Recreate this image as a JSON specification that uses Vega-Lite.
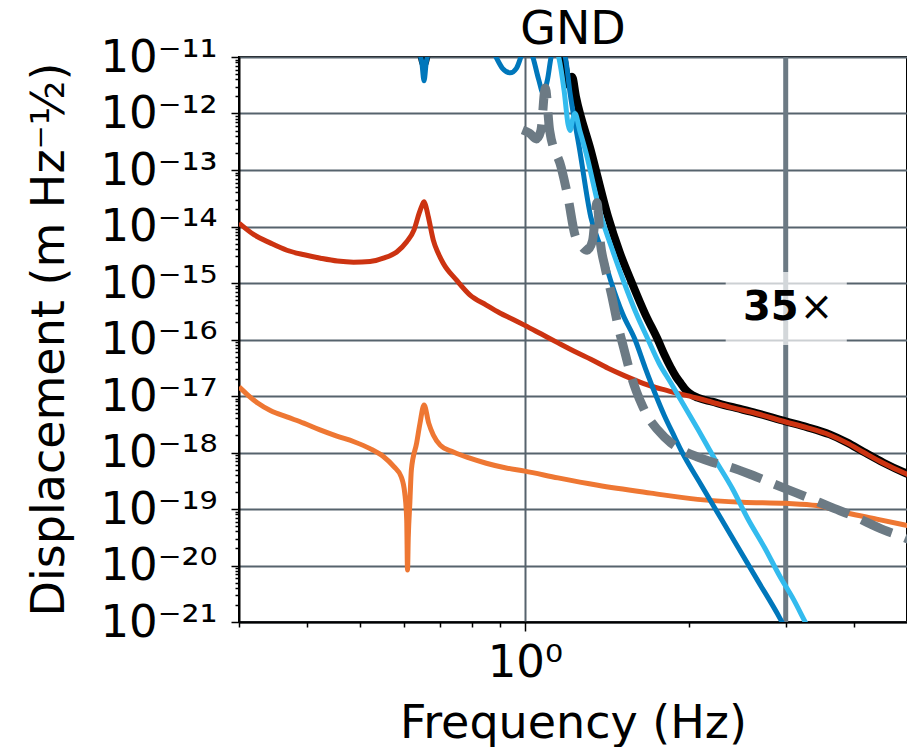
{
  "$schema": "https://vega.github.io/schema/vega-lite/v6.json",
  "width": 668,
  "height": 565,
  "autosize": {"type": "none"},
  "padding": {"left": 239, "top": 57, "right": 0, "bottom": 125},
  "background": "white",
  "config": {
    "view": {"stroke": "black", "strokeWidth": 2},
    "font": "DejaVu Sans"
  },
  "title": {
    "text": "GND",
    "fontSize": 46,
    "font": "DejaVu Sans",
    "fontWeight": "normal",
    "color": "black",
    "anchor": "middle",
    "frame": "group",
    "baseline": "alphabetic",
    "offset": 17,
    "dy": 72
  },
  "datasets": {
    "curves": [
      {"s": "red", "f": 0.3, "v": 1.15e-14},
      {"s": "red", "f": 0.32, "v": 7.08e-15},
      {"s": "red", "f": 0.342, "v": 5.13e-15},
      {"s": "red", "f": 0.367, "v": 3.8e-15},
      {"s": "red", "f": 0.395, "v": 3.16e-15},
      {"s": "red", "f": 0.423, "v": 2.75e-15},
      {"s": "red", "f": 0.454, "v": 2.45e-15},
      {"s": "red", "f": 0.486, "v": 2.34e-15},
      {"s": "red", "f": 0.521, "v": 2.4e-15},
      {"s": "red", "f": 0.551, "v": 2.75e-15},
      {"s": "red", "f": 0.583, "v": 3.55e-15},
      {"s": "red", "f": 0.608, "v": 5.37e-15},
      {"s": "red", "f": 0.627, "v": 8.71e-15},
      {"s": "red", "f": 0.641, "v": 1.74e-14},
      {"s": "red", "f": 0.649, "v": 2.4e-14},
      {"s": "red", "f": 0.654, "v": 2.75e-14},
      {"s": "red", "f": 0.659, "v": 2.29e-14},
      {"s": "red", "f": 0.666, "v": 1.48e-14},
      {"s": "red", "f": 0.68, "v": 5.75e-15},
      {"s": "red", "f": 0.694, "v": 3.39e-15},
      {"s": "red", "f": 0.709, "v": 2.24e-15},
      {"s": "red", "f": 0.75, "v": 1.12e-15},
      {"s": "red", "f": 0.793, "v": 6.17e-16},
      {"s": "red", "f": 0.85, "v": 4.07e-16},
      {"s": "red", "f": 0.9, "v": 2.95e-16},
      {"s": "red", "f": 0.95, "v": 2.29e-16},
      {"s": "red", "f": 1.0, "v": 1.78e-16},
      {"s": "red", "f": 1.07, "v": 1.26e-16},
      {"s": "red", "f": 1.15, "v": 8.71e-17},
      {"s": "red", "f": 1.25, "v": 5.75e-17},
      {"s": "red", "f": 1.32, "v": 4.47e-17},
      {"s": "red", "f": 1.42, "v": 3.09e-17},
      {"s": "red", "f": 1.52, "v": 2.29e-17},
      {"s": "red", "f": 1.65, "v": 1.66e-17},
      {"s": "red", "f": 1.78, "v": 1.32e-17},
      {"s": "red", "f": 1.9, "v": 1.12e-17},
      {"s": "red", "f": 2.07, "v": 9.12e-18},
      {"s": "red", "f": 2.2, "v": 7.76e-18},
      {"s": "red", "f": 2.38, "v": 6.31e-18},
      {"s": "red", "f": 2.65, "v": 4.9e-18},
      {"s": "red", "f": 3.0, "v": 3.47e-18},
      {"s": "red", "f": 3.28, "v": 2.75e-18},
      {"s": "red", "f": 3.61, "v": 2.04e-18},
      {"s": "red", "f": 3.88, "v": 1.48e-18},
      {"s": "red", "f": 4.17, "v": 1.0e-18},
      {"s": "red", "f": 4.53, "v": 6.46e-19},
      {"s": "red", "f": 4.93, "v": 4.37e-19},
      {"s": "red", "f": 5.1, "v": 3.8e-19},

      {"s": "black", "f": 0.3, "v": 1e-10},
      {"s": "black", "f": 0.64, "v": 1.58e-11},
      {"s": "black", "f": 0.654, "v": 7.59e-12},
      {"s": "black", "f": 0.668, "v": 1.58e-11},
      {"s": "black", "f": 1.0, "v": 5.01e-11},
      {"s": "black", "f": 1.17, "v": 1.26e-11},
      {"s": "black", "f": 1.19, "v": 5.01e-12},
      {"s": "black", "f": 1.205, "v": 3.16e-12},
      {"s": "black", "f": 1.22, "v": 4.47e-12},
      {"s": "black", "f": 1.24, "v": 2.0e-12},
      {"s": "black", "f": 1.32, "v": 2.24e-13},
      {"s": "black", "f": 1.42, "v": 1.48e-14},
      {"s": "black", "f": 1.49, "v": 3.55e-15},
      {"s": "black", "f": 1.57, "v": 1.0e-15},
      {"s": "black", "f": 1.66, "v": 2.82e-16},
      {"s": "black", "f": 1.75, "v": 1.0e-16},
      {"s": "black", "f": 1.8, "v": 5.37e-17},
      {"s": "black", "f": 1.85, "v": 3.16e-17},
      {"s": "black", "f": 1.89, "v": 2.19e-17},
      {"s": "black", "f": 1.93, "v": 1.66e-17},
      {"s": "black", "f": 1.96, "v": 1.35e-17},
      {"s": "black", "f": 2.0, "v": 1.12e-17},
      {"s": "black", "f": 2.07, "v": 9.33e-18},
      {"s": "black", "f": 2.2, "v": 7.94e-18},
      {"s": "black", "f": 2.38, "v": 6.46e-18},
      {"s": "black", "f": 2.65, "v": 5.0e-18},
      {"s": "black", "f": 3.0, "v": 3.55e-18},
      {"s": "black", "f": 3.28, "v": 2.82e-18},
      {"s": "black", "f": 3.61, "v": 2.09e-18},
      {"s": "black", "f": 3.88, "v": 1.51e-18},
      {"s": "black", "f": 4.17, "v": 1.02e-18},
      {"s": "black", "f": 4.53, "v": 6.6e-19},
      {"s": "black", "f": 4.93, "v": 4.47e-19},
      {"s": "black", "f": 5.1, "v": 3.9e-19},

      {"s": "orange", "f": 0.3, "v": 1.45e-17},
      {"s": "orange", "f": 0.311, "v": 1.05e-17},
      {"s": "orange", "f": 0.324, "v": 7.59e-18},
      {"s": "orange", "f": 0.343, "v": 5.5e-18},
      {"s": "orange", "f": 0.367, "v": 4.27e-18},
      {"s": "orange", "f": 0.394, "v": 3.31e-18},
      {"s": "orange", "f": 0.422, "v": 2.51e-18},
      {"s": "orange", "f": 0.453, "v": 1.95e-18},
      {"s": "orange", "f": 0.487, "v": 1.55e-18},
      {"s": "orange", "f": 0.521, "v": 1.17e-18},
      {"s": "orange", "f": 0.551, "v": 8.51e-19},
      {"s": "orange", "f": 0.576, "v": 5.62e-19},
      {"s": "orange", "f": 0.594, "v": 3.72e-19},
      {"s": "orange", "f": 0.603, "v": 1.91e-19},
      {"s": "orange", "f": 0.608, "v": 6.31e-20},
      {"s": "orange", "f": 0.61, "v": 8.32e-21},
      {"s": "orange", "f": 0.612, "v": 3.16e-20},
      {"s": "orange", "f": 0.616, "v": 1.26e-19},
      {"s": "orange", "f": 0.62, "v": 4.9e-19},
      {"s": "orange", "f": 0.634, "v": 1.48e-18},
      {"s": "orange", "f": 0.643, "v": 3.31e-18},
      {"s": "orange", "f": 0.654, "v": 6.92e-18},
      {"s": "orange", "f": 0.667, "v": 3.31e-18},
      {"s": "orange", "f": 0.68, "v": 2.04e-18},
      {"s": "orange", "f": 0.7, "v": 1.35e-18},
      {"s": "orange", "f": 0.74, "v": 1.02e-18},
      {"s": "orange", "f": 0.793, "v": 7.94e-19},
      {"s": "orange", "f": 0.85, "v": 6.46e-19},
      {"s": "orange", "f": 0.92, "v": 5.37e-19},
      {"s": "orange", "f": 1.0, "v": 4.68e-19},
      {"s": "orange", "f": 1.15, "v": 3.55e-19},
      {"s": "orange", "f": 1.36, "v": 2.63e-19},
      {"s": "orange", "f": 1.7, "v": 1.91e-19},
      {"s": "orange", "f": 2.07, "v": 1.48e-19},
      {"s": "orange", "f": 2.5, "v": 1.32e-19},
      {"s": "orange", "f": 3.0, "v": 1.26e-19},
      {"s": "orange", "f": 3.42, "v": 1.15e-19},
      {"s": "orange", "f": 3.88, "v": 8.51e-20},
      {"s": "orange", "f": 4.4, "v": 6.61e-20},
      {"s": "orange", "f": 4.93, "v": 5.25e-20},
      {"s": "orange", "f": 5.1, "v": 4.9e-20},

      {"s": "blue", "f": 0.3, "v": 1e-10},
      {"s": "blue", "f": 0.6, "v": 3.16e-11},
      {"s": "blue", "f": 0.64, "v": 1.26e-11},
      {"s": "blue", "f": 0.648, "v": 7.94e-12},
      {"s": "blue", "f": 0.654, "v": 3.8e-12},
      {"s": "blue", "f": 0.66, "v": 7.94e-12},
      {"s": "blue", "f": 0.668, "v": 1.26e-11},
      {"s": "blue", "f": 0.72, "v": 3.16e-11},
      {"s": "blue", "f": 0.85, "v": 2.0e-11},
      {"s": "blue", "f": 0.883, "v": 1.05e-11},
      {"s": "blue", "f": 0.91, "v": 6.31e-12},
      {"s": "blue", "f": 0.94, "v": 5.25e-12},
      {"s": "blue", "f": 0.965, "v": 6.31e-12},
      {"s": "blue", "f": 0.985, "v": 1.05e-11},
      {"s": "blue", "f": 1.0, "v": 1.58e-11},
      {"s": "blue", "f": 1.03, "v": 1.12e-11},
      {"s": "blue", "f": 1.06, "v": 3.98e-12},
      {"s": "blue", "f": 1.08, "v": 2.29e-12},
      {"s": "blue", "f": 1.1, "v": 3.98e-12},
      {"s": "blue", "f": 1.12, "v": 1.12e-11},
      {"s": "blue", "f": 1.15, "v": 1.58e-11},
      {"s": "blue", "f": 1.185, "v": 1.0e-11},
      {"s": "blue", "f": 1.21, "v": 2.24e-12},
      {"s": "blue", "f": 1.26, "v": 2.24e-13},
      {"s": "blue", "f": 1.32, "v": 1.48e-14},
      {"s": "blue", "f": 1.38, "v": 3.98e-15},
      {"s": "blue", "f": 1.44, "v": 1.0e-15},
      {"s": "blue", "f": 1.51, "v": 2.82e-16},
      {"s": "blue", "f": 1.59, "v": 1.0e-16},
      {"s": "blue", "f": 1.66, "v": 3.16e-17},
      {"s": "blue", "f": 1.73, "v": 1.12e-17},
      {"s": "blue", "f": 1.8, "v": 4.47e-18},
      {"s": "blue", "f": 1.88, "v": 1.86e-18},
      {"s": "blue", "f": 1.93, "v": 1.1e-18},
      {"s": "blue", "f": 2.1, "v": 2.69e-19},
      {"s": "blue", "f": 2.38, "v": 3.47e-20},
      {"s": "blue", "f": 2.66, "v": 5.62e-21},
      {"s": "blue", "f": 2.93, "v": 1.15e-21},
      {"s": "blue", "f": 3.1, "v": 4.0e-22},

      {"s": "cyan", "f": 0.3, "v": 1e-10},
      {"s": "cyan", "f": 1.1, "v": 2.51e-11},
      {"s": "cyan", "f": 1.15, "v": 1.12e-11},
      {"s": "cyan", "f": 1.18, "v": 2.51e-12},
      {"s": "cyan", "f": 1.2, "v": 6.31e-13},
      {"s": "cyan", "f": 1.21, "v": 5.01e-13},
      {"s": "cyan", "f": 1.22, "v": 7.08e-13},
      {"s": "cyan", "f": 1.235, "v": 1.0e-12},
      {"s": "cyan", "f": 1.26, "v": 5.01e-13},
      {"s": "cyan", "f": 1.29, "v": 2.24e-13},
      {"s": "cyan", "f": 1.38, "v": 1.48e-14},
      {"s": "cyan", "f": 1.45, "v": 3.55e-15},
      {"s": "cyan", "f": 1.52, "v": 1.0e-15},
      {"s": "cyan", "f": 1.6, "v": 2.82e-16},
      {"s": "cyan", "f": 1.68, "v": 1.0e-16},
      {"s": "cyan", "f": 1.76, "v": 3.8e-17},
      {"s": "cyan", "f": 1.85, "v": 1.7e-17},
      {"s": "cyan", "f": 1.95, "v": 7.08e-18},
      {"s": "cyan", "f": 2.07, "v": 2.63e-18},
      {"s": "cyan", "f": 2.22, "v": 7.94e-19},
      {"s": "cyan", "f": 2.4, "v": 2.24e-19},
      {"s": "cyan", "f": 2.55, "v": 7.08e-20},
      {"s": "cyan", "f": 2.75, "v": 2.0e-20},
      {"s": "cyan", "f": 2.93, "v": 6.31e-21},
      {"s": "cyan", "f": 3.1, "v": 2.51e-21},
      {"s": "cyan", "f": 3.24, "v": 1.1e-21},
      {"s": "cyan", "f": 3.4, "v": 4.47e-22},

      {"s": "grey", "f": 0.99, "v": 5.13e-13},
      {"s": "grey", "f": 1.02, "v": 4.47e-13},
      {"s": "grey", "f": 1.05, "v": 3.55e-13},
      {"s": "grey", "f": 1.07, "v": 5.01e-13},
      {"s": "grey", "f": 1.09, "v": 2.82e-12},
      {"s": "grey", "f": 1.11, "v": 5.01e-13},
      {"s": "grey", "f": 1.165, "v": 1.12e-13},
      {"s": "grey", "f": 1.2, "v": 3.16e-14},
      {"s": "grey", "f": 1.235, "v": 7.08e-15},
      {"s": "grey", "f": 1.27, "v": 4.47e-15},
      {"s": "grey", "f": 1.3, "v": 3.8e-15},
      {"s": "grey", "f": 1.33, "v": 5.62e-15},
      {"s": "grey", "f": 1.355, "v": 2.63e-14},
      {"s": "grey", "f": 1.375, "v": 5.01e-15},
      {"s": "grey", "f": 1.4, "v": 2.0e-15},
      {"s": "grey", "f": 1.44, "v": 6.31e-16},
      {"s": "grey", "f": 1.48, "v": 1.78e-16},
      {"s": "grey", "f": 1.52, "v": 6.46e-17},
      {"s": "grey", "f": 1.56, "v": 2.51e-17},
      {"s": "grey", "f": 1.6, "v": 1.2e-17},
      {"s": "grey", "f": 1.64, "v": 6.76e-18},
      {"s": "grey", "f": 1.68, "v": 4.27e-18},
      {"s": "grey", "f": 1.75, "v": 2.51e-18},
      {"s": "grey", "f": 1.85, "v": 1.48e-18},
      {"s": "grey", "f": 1.95, "v": 1.07e-18},
      {"s": "grey", "f": 2.07, "v": 8.32e-19},
      {"s": "grey", "f": 2.2, "v": 6.76e-19},
      {"s": "grey", "f": 2.38, "v": 5.5e-19},
      {"s": "grey", "f": 2.65, "v": 3.72e-19},
      {"s": "grey", "f": 2.98, "v": 2.34e-19},
      {"s": "grey", "f": 3.3, "v": 1.58e-19},
      {"s": "grey", "f": 3.61, "v": 1.1e-19},
      {"s": "grey", "f": 4.0, "v": 7.41e-20},
      {"s": "grey", "f": 4.53, "v": 4.27e-20},
      {"s": "grey", "f": 4.93, "v": 3.16e-20},
      {"s": "grey", "f": 5.1, "v": 2.75e-20}
    ],
    "marker": [{"f": 3}],
    "note": [{"f": 3, "v": 3.6e-16, "num": "35", "sym": "×", "x1": 2.33, "x2": 3.88, "y1": 1.57e-15, "y2": 8.0e-17}]
  },
  "layer": [
    {
      "data": {"name": "marker"},
      "mark": {"type": "rule", "color": "#6c7a84", "strokeWidth": 5},
      "encoding": {
        "x": {
          "field": "f",
          "type": "quantitative",
          "scale": {"type": "log", "domain": [0.3, 5], "nice": false},
          "axis": {
            "values": [0.3, 0.4, 0.5, 0.6, 0.7, 0.8, 0.9, 1, 2, 3, 4],
            "labelExpr": "datum.value == 1 ? '10⁰' : ''",
            "labelFontSize": 45,
            "labelFont": "DejaVu Sans",
            "labelColor": "black",
            "labelPadding": 9,
            "labelOverlap": false,
            "labelFlush": false,
            "labelBaseline": "top",
            "tickSize": {"condition": {"test": "datum.value == 1", "value": 9}, "value": 5},
            "tickColor": "black",
            "tickWidth": 1.5,
            "domainColor": "black",
            "domainWidth": 2,
            "grid": true,
            "gridColor": "#56636d",
            "gridWidth": 2,
            "gridOpacity": {"condition": {"test": "datum.value == 1", "value": 1}, "value": 0},
            "title": "Frequency (Hz)",
            "titleFontSize": 46,
            "titleFont": "DejaVu Sans",
            "titleFontWeight": "normal",
            "titleColor": "black",
            "titleBaseline": "alphabetic",
            "titleX": 334,
            "titleY": 115,
            "titleAlign": "center"
          }
        }
      }
    },
    {
      "data": {"name": "note"},
      "mark": {"type": "rect", "fill": "white", "opacity": 0.7},
      "encoding": {
        "x": {"field": "x1", "type": "quantitative"},
        "x2": {"field": "x2"},
        "y": {
          "field": "y1",
          "type": "quantitative",
          "scale": {"type": "log", "domain": [1e-21, 1e-11], "nice": false},
          "axis": {
            "values": [1e-21, 2e-21, 3e-21, 4e-21, 5e-21, 6e-21, 7e-21, 8e-21, 9e-21,
                       1e-20, 2e-20, 3e-20, 4e-20, 5e-20, 6e-20, 7e-20, 8e-20, 9e-20,
                       1e-19, 2e-19, 3e-19, 4e-19, 5e-19, 6e-19, 7e-19, 8e-19, 9e-19,
                       1e-18, 2e-18, 3e-18, 4e-18, 5e-18, 6e-18, 7e-18, 8e-18, 9e-18,
                       1e-17, 2e-17, 3e-17, 4e-17, 5e-17, 6e-17, 7e-17, 8e-17, 9e-17,
                       1e-16, 2e-16, 3e-16, 4e-16, 5e-16, 6e-16, 7e-16, 8e-16, 9e-16,
                       1e-15, 2e-15, 3e-15, 4e-15, 5e-15, 6e-15, 7e-15, 8e-15, 9e-15,
                       1e-14, 2e-14, 3e-14, 4e-14, 5e-14, 6e-14, 7e-14, 8e-14, 9e-14,
                       1e-13, 2e-13, 3e-13, 4e-13, 5e-13, 6e-13, 7e-13, 8e-13, 9e-13,
                       1e-12, 2e-12, 3e-12, 4e-12, 5e-12, 6e-12, 7e-12, 8e-12, 9e-12,
                       1e-11],
            "labelExpr": "abs(log(datum.value)/LN10 - round(log(datum.value)/LN10)) < 0.01 ? '10⁻' + ['⁰','¹','²','³','⁴','⁵','⁶','⁷','⁸','⁹'][floor(round(-log(datum.value)/LN10)/10)] + ['⁰','¹','²','³','⁴','⁵','⁶','⁷','⁸','⁹'][round(-log(datum.value)/LN10) % 10] : ''",
            "labelFontSize": 45,
            "labelFont": "DejaVu Sans",
            "labelColor": "black",
            "labelPadding": 14,
            "labelOverlap": false,
            "labelFlush": false,
            "labelBaseline": "middle",
            "tickSize": {"condition": {"test": "abs(log(datum.value)/LN10 - round(log(datum.value)/LN10)) < 0.01", "value": 8}, "value": 4},
            "tickColor": "black",
            "tickWidth": 1.5,
            "domainColor": "black",
            "domainWidth": 2,
            "grid": true,
            "gridColor": "#56636d",
            "gridWidth": 2,
            "gridOpacity": {"condition": {"test": "abs(log(datum.value)/LN10 - round(log(datum.value)/LN10)) < 0.01", "value": 1}, "value": 0},
            "title": "Displacement (m Hz⁻½)",
            "titleFontSize": 46,
            "titleFont": "DejaVu Sans",
            "titleFontWeight": "normal",
            "titleColor": "black",
            "titleAngle": -90,
            "titleBaseline": "alphabetic",
            "titleAlign": "center",
            "titleX": -176,
            "titleY": 282
          }
        },
        "y2": {"field": "y2"}
      }
    },
    {
      "data": {"name": "note"},
      "mark": {"type": "text", "align": "right", "baseline": "middle", "fontSize": 40, "fontWeight": "bold", "font": "DejaVu Sans", "color": "black", "dx": 13},
      "encoding": {
        "x": {"field": "f", "type": "quantitative"},
        "y": {"field": "v", "type": "quantitative"},
        "text": {"field": "num"}
      }
    },
    {
      "data": {"name": "note"},
      "mark": {"type": "text", "align": "left", "baseline": "middle", "fontSize": 40, "fontWeight": "normal", "font": "DejaVu Sans", "color": "black", "dx": 14},
      "encoding": {
        "x": {"field": "f", "type": "quantitative"},
        "y": {"field": "v", "type": "quantitative"},
        "text": {"field": "sym"}
      }
    },
    {
      "data": {"name": "curves"},
      "transform": [{"filter": "datum.s == 'black'"}],
      "mark": {"type": "line", "color": "black", "strokeWidth": 8, "clip": true, "interpolate": "monotone"},
      "encoding": {
        "x": {"field": "f", "type": "quantitative"},
        "y": {"field": "v", "type": "quantitative"}
      }
    },
    {
      "data": {"name": "curves"},
      "transform": [{"filter": "datum.s == 'red'"}],
      "mark": {"type": "line", "color": "#cc3311", "strokeWidth": 5, "clip": true, "interpolate": "monotone"},
      "encoding": {
        "x": {"field": "f", "type": "quantitative"},
        "y": {"field": "v", "type": "quantitative"}
      }
    },
    {
      "data": {"name": "curves"},
      "transform": [{"filter": "datum.s == 'orange'"}],
      "mark": {"type": "line", "color": "#ee7733", "strokeWidth": 5, "clip": true, "interpolate": "monotone"},
      "encoding": {
        "x": {"field": "f", "type": "quantitative"},
        "y": {"field": "v", "type": "quantitative"}
      }
    },
    {
      "data": {"name": "curves"},
      "transform": [{"filter": "datum.s == 'blue'"}],
      "mark": {"type": "line", "color": "#0077bb", "strokeWidth": 5, "clip": true, "interpolate": "monotone"},
      "encoding": {
        "x": {"field": "f", "type": "quantitative"},
        "y": {"field": "v", "type": "quantitative"}
      }
    },
    {
      "data": {"name": "curves"},
      "transform": [{"filter": "datum.s == 'cyan'"}],
      "mark": {"type": "line", "color": "#33bbee", "strokeWidth": 5, "clip": true, "interpolate": "monotone"},
      "encoding": {
        "x": {"field": "f", "type": "quantitative"},
        "y": {"field": "v", "type": "quantitative"}
      }
    },
    {
      "data": {"name": "curves"},
      "transform": [{"filter": "datum.s == 'grey'"}],
      "mark": {"type": "line", "color": "#6c7a84", "strokeWidth": 9, "strokeDash": [33, 14], "strokeCap": "butt", "clip": true, "interpolate": "monotone"},
      "encoding": {
        "x": {"field": "f", "type": "quantitative"},
        "y": {"field": "v", "type": "quantitative"}
      }
    }
  ]
}
